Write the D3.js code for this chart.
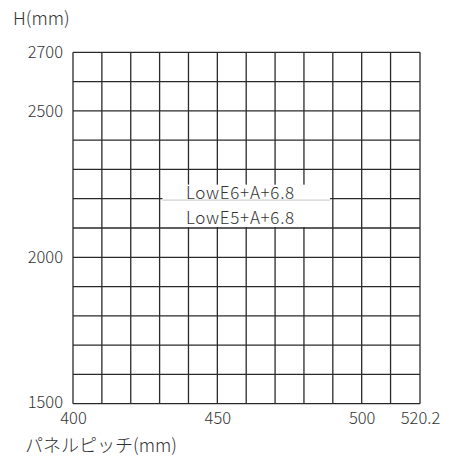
<!DOCTYPE html>
<html><head><meta charset="utf-8">
<script src="https://cdn.jsdelivr.net/npm/d3@7"></script>
<style>
html,body{margin:0;padding:0;background:#fff;}
text{font-family:"Noto Sans CJK JP","Noto Sans",sans-serif;fill:#333;font-weight:300;}
</style></head>
<body>
<svg id="c" width="449" height="457"></svg>
<script>
const xTicks = [400, 450, 500, 520.2];
const yTicks = [1500, 2000, 2500, 2700];
const xGrid = [400, 410, 420, 430, 440, 450, 460, 470, 480, 490, 500, 510, 520.2];
const yGrid = [1500, 1600, 1700, 1800, 1900, 2000, 2100, 2200, 2300, 2400, 2500, 2600, 2700];
const labels = ["LowE6+A+6.8", "LowE5+A+6.8"];
const labelX = 458;
const labelY = 2200;
const boxX = [431, 489];
const boxY = [2100, 2248];
const xTitle = "パネルピッチ(mm)";
const yTitle = "H(mm)";

const svg = d3.select("#c");
const x = d3.scaleLinear().domain([400, 520.2]).range([73, 420]);
const y = d3.scaleLinear().domain([1500, 2700]).range([403.7, 52.3]);

const g = svg.append("g");
g.selectAll("line.v").data(xGrid).join("line")
  .attr("x1", d => x(d)).attr("x2", d => x(d))
  .attr("y1", y(1500)).attr("y2", y(2700))
  .attr("stroke", "#2a2a2a").attr("stroke-width", 1.3);
g.selectAll("line.h").data(yGrid).join("line")
  .attr("y1", d => y(d)).attr("y2", d => y(d))
  .attr("x1", x(400)).attr("x2", x(520.2))
  .attr("stroke", "#2a2a2a").attr("stroke-width", 1.3);

// label box
svg.append("rect")
  .attr("x", x(boxX[0])).attr("width", x(boxX[1]) - x(boxX[0]))
  .attr("y", y(boxY[1])).attr("height", y(boxY[0]) - y(boxY[1]) - 1)
  .attr("fill", "#fff");
svg.append("line")
  .attr("x1", x(boxX[0])).attr("x2", x(boxX[1]))
  .attr("y1", y(labelY) + 1.5).attr("y2", y(labelY) + 1.5)
  .attr("stroke", "#d0d0d0").attr("stroke-width", 1.3);
svg.selectAll("text.lab").data(labels).join("text")
  .attr("x", x(labelX))
  .attr("y", (d, i) => y(labelY) + (i === 0 ? 0.5 : 25))
  .attr("text-anchor", "middle")
  .attr("font-size", 17)
  .attr("letter-spacing", 0.7)
  .text(d => d);

// axes
const xAxis = svg.append("g").attr("transform", `translate(0,${y(1500)})`)
  .call(d3.axisBottom(x).tickValues(xTicks).tickFormat(d => String(d)).tickSize(0).tickPadding(9));
const yAxis = svg.append("g").attr("transform", `translate(${x(400)},0)`)
  .call(d3.axisLeft(y).tickValues(yTicks).tickFormat(d => String(d)).tickSize(0).tickPadding(10));
[xAxis, yAxis].forEach(a => {
  a.select(".domain").remove();
  a.selectAll("text").attr("font-size", 16.5).attr("fill", "#333")
    .style("font-family", '"Noto Sans CJK JP","Noto Sans",sans-serif')
    .style("font-weight", 300);
});
yAxis.selectAll("text").attr("dy", "0.32em");
yAxis.selectAll("text").filter(d => d === 1500).attr("dy", "0.22em");

svg.append("text").attr("x", 13).attr("y", 25).attr("font-size", 18).text(yTitle);
svg.append("text").attr("x", 25).attr("y", 452).attr("font-size", 18).text(xTitle);
</script>
</body></html>
